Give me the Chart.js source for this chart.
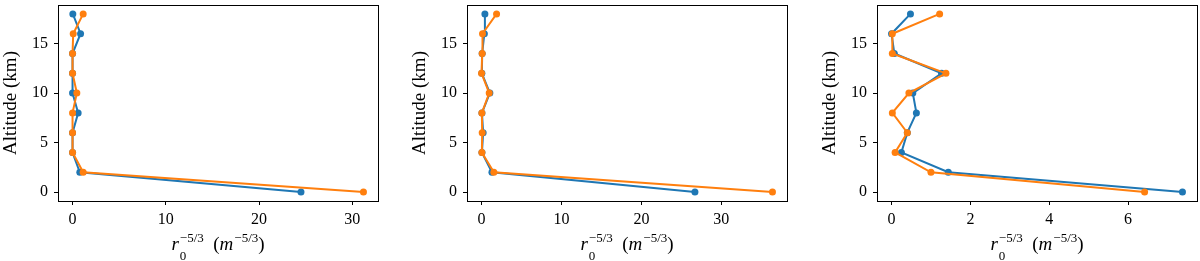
<!DOCTYPE html>
<html>
<head>
<meta charset="utf-8">
<script src="https://cdn.jsdelivr.net/npm/chart.js@4.4.0/dist/chart.umd.min.js"></script>
<style>
  html, body { margin: 0; padding: 0; background: #fff; overflow: hidden; }
  #wrap { position: relative; width: 1200px; height: 261px; }
  .panel { position: absolute; top: 0; width: 390px; height: 261px; }
  .xlab {
    position: absolute; top: 234px; left: 58px; width: 320px; text-align: center;
    font-family: "Liberation Serif", serif; font-size: 19px; line-height: 20px; color: #000; white-space: nowrap;
  }
  .xlab i { font-style: italic; }
  .ss { position: relative; display: inline-block; font-size: 13px; margin-left: 1px; }
  .ss .up { position: relative; top: -8px; }
  .ss .dn { position: absolute; left: 0; top: 10px; }
  .sup { font-size: 13px; position: relative; top: -8px; margin-left: 1px; }
</style>
</head>
<body>
<div id="wrap">
  <div class="panel" style="left:0px"><canvas id="c1" width="390" height="261"></canvas>
    <div class="xlab"><i>r</i><span class="ss"><span class="up">−5/3</span><span class="dn">0</span></span>&nbsp;&nbsp;(<i>m</i><span class="sup">−5/3</span>)</div></div>
  <div class="panel" style="left:409px"><canvas id="c2" width="390" height="261"></canvas>
    <div class="xlab"><i>r</i><span class="ss"><span class="up">−5/3</span><span class="dn">0</span></span>&nbsp;&nbsp;(<i>m</i><span class="sup">−5/3</span>)</div></div>
  <div class="panel" style="left:819px"><canvas id="c3" width="390" height="261"></canvas>
    <div class="xlab"><i>r</i><span class="ss"><span class="up">−5/3</span><span class="dn">0</span></span>&nbsp;&nbsp;(<i>m</i><span class="sup">−5/3</span>)</div></div>
</div>
<script>
const altitudes = [0, 2, 4, 6, 8, 10, 12, 14, 16, 18];

const blue1 = [24.5, 0.78, 0.0, 0.0, 0.6, 0.0, 0.0, 0.0, 0.86, 0.03];
const orange1 = [31.2, 1.14, 0.0, 0.0, 0.0, 0.46, 0.0, 0.0, 0.07, 1.14];

const blue2 = [26.7, 1.3, 0.05, 0.2, 0.05, 1.04, 0.04, 0.08, 0.35, 0.42];
const orange2 = [36.4, 1.54, 0.04, 0.08, 0.04, 0.96, 0.0, 0.08, 0.12, 1.88];

const blue3 = [7.38, 1.44, 0.25, 0.4, 0.63, 0.54, 1.27, 0.07, 0.0, 0.48];
const orange3 = [6.42, 1.0, 0.09, 0.4, 0.02, 0.44, 1.38, 0.02, 0.02, 1.22];

const xTicks1 = [0, 10, 20, 30];
const xTicks2 = [0, 10, 20, 30];
const xTicks3 = [0, 2, 4, 6];
const yTicks = [0, 5, 10, 15];

const TICKFONT = { family: '"Liberation Serif", serif', size: 16 };
const TITLEFONT = { family: '"Liberation Serif", serif', size: 19 };

// box around the plot area, like matplotlib's spines
const framePlugin = {
    id: 'frame',
    afterDraw(chart) {
        const a = chart.chartArea;
        const ctx = chart.ctx;
        ctx.save();
        ctx.strokeStyle = '#000';
        ctx.lineWidth = 1;
        ctx.strokeRect(Math.round(a.left) + 0.5, Math.round(a.top) + 0.5,
            Math.round(a.right - a.left), Math.round(a.bottom - a.top));
        ctx.restore();
    }
};

function pad(vals) {
    let lo = Math.min(...vals), hi = Math.max(...vals);
    let m = (hi - lo) * 0.05;
    return [lo - m, hi + m];
}

function makeChart(id, blue, orange, xTicks) {
    const xr = pad(blue.concat(orange));
    const yr = pad(altitudes);
    const ds = (vals, color, order) => ({
        data: vals.map((v, i) => ({ x: v, y: altitudes[i] })),
        borderColor: color,
        backgroundColor: color,
        showLine: true,
        borderWidth: 2,
        pointRadius: 3.5,
        pointBorderWidth: 0,
        order: order
    });
    return new Chart(document.getElementById(id), {
        type: 'scatter',
        data: {
            datasets: [
                ds(blue, '#1f77b4', 1),
                ds(orange, '#ff7f0e', 0)
            ]
        },
        options: {
            responsive: false,
            animation: false,
            devicePixelRatio: 1,
            layout: { autoPadding: false, padding: { top: 5, right: 12, left: 0, bottom: 0 } },
            plugins: { legend: { display: false }, tooltip: { enabled: false } },
            scales: {
                x: {
                    type: 'linear',
                    min: xr[0], max: xr[1],
                    afterBuildTicks: s => { s.ticks = xTicks.map(v => ({ value: v })); },
                    afterFit: s => { s.height = 60; s.paddingLeft = 0; s.paddingRight = 0; },
                    border: { display: false },
                    grid: { drawOnChartArea: false, drawTicks: true, tickLength: 4, color: '#000', lineWidth: 1 },
                    ticks: { font: TICKFONT, color: '#000', padding: 5, maxRotation: 0 }
                },
                y: {
                    type: 'linear',
                    min: yr[0], max: yr[1],
                    afterBuildTicks: s => { s.ticks = yTicks.map(v => ({ value: v })); },
                    afterFit: s => { s.width = 58; s.paddingTop = 0; s.paddingBottom = 0; },
                    border: { display: false },
                    grid: { drawOnChartArea: false, drawTicks: true, tickLength: 4, color: '#000', lineWidth: 1 },
                    ticks: { font: TICKFONT, color: '#000', padding: 6 },
                    title: { display: true, text: 'Altitude (km)', font: TITLEFONT, color: '#000', padding: { top: 0, bottom: 2 } }
                }
            }
        },
        plugins: [framePlugin]
    });
}

makeChart('c1', blue1, orange1, xTicks1);
makeChart('c2', blue2, orange2, xTicks2);
makeChart('c3', blue3, orange3, xTicks3);
</script>
</body>
</html>
